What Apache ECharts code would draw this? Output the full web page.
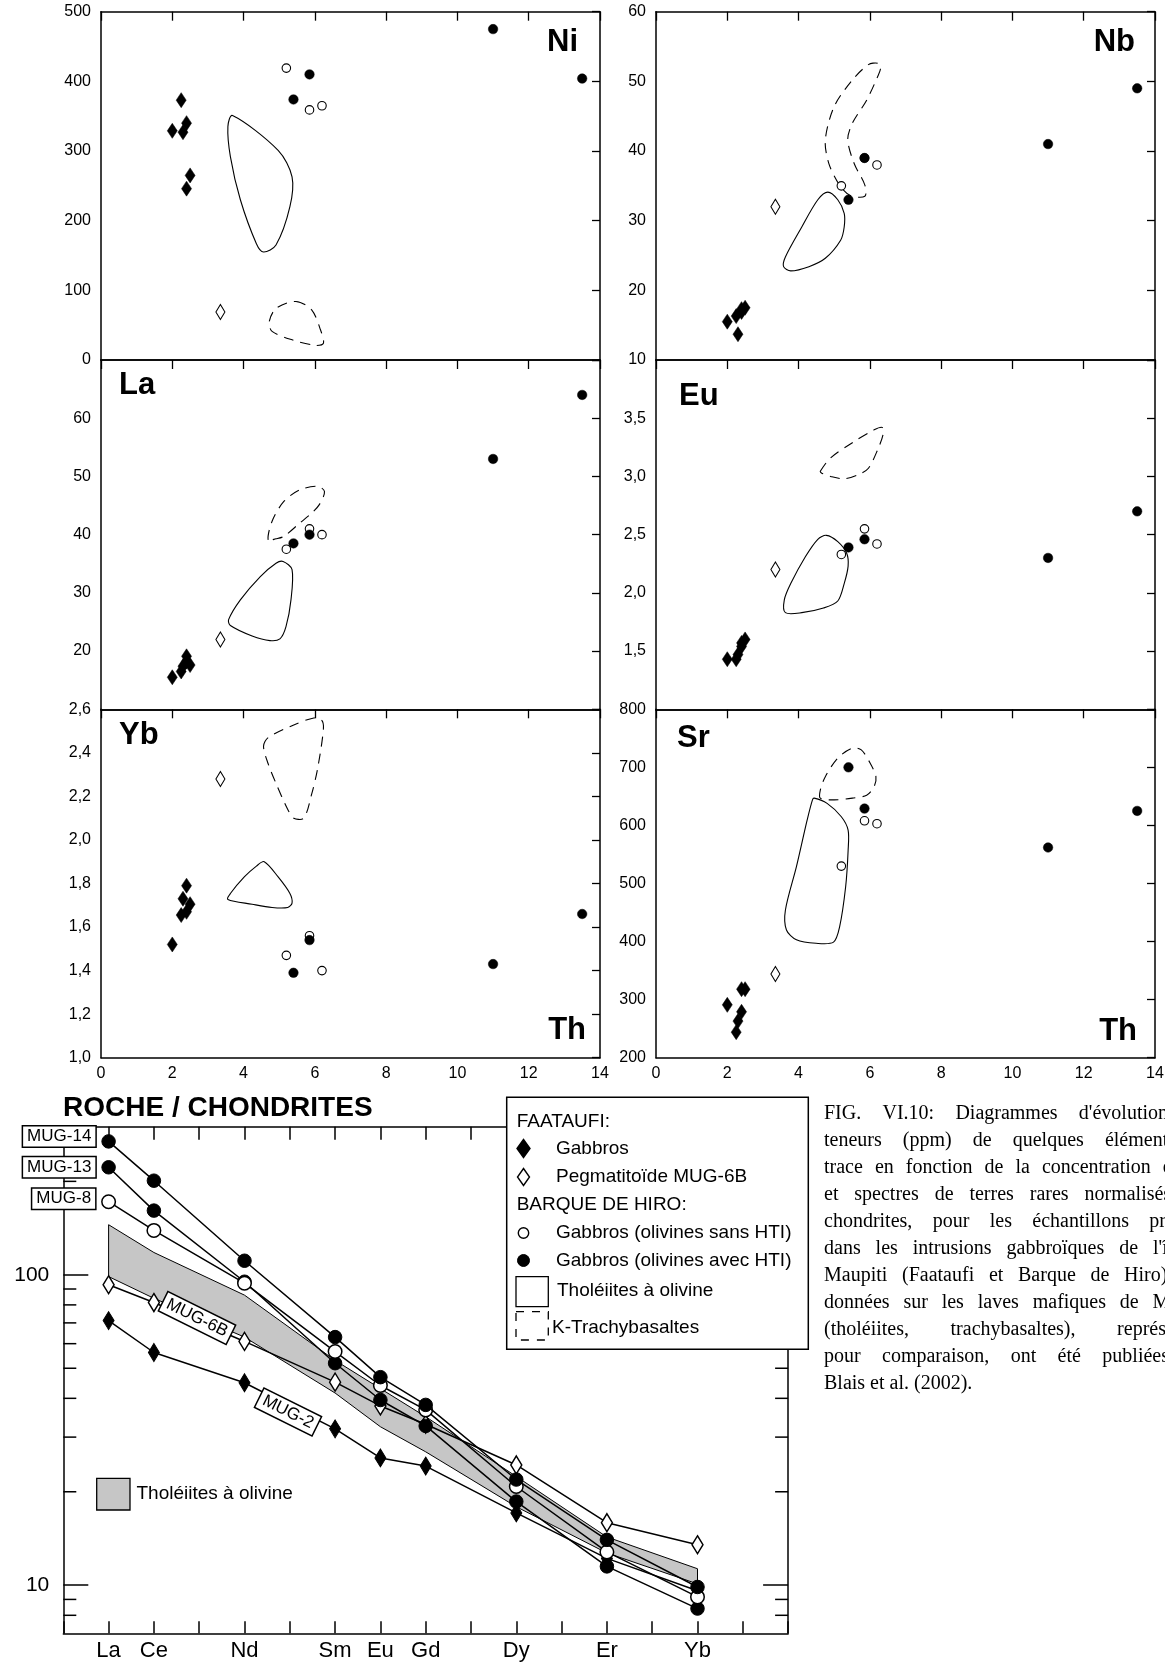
<!DOCTYPE html>
<html><head><meta charset="utf-8">
<script src="https://cdn.jsdelivr.net/npm/echarts@6/dist/echarts.min.js"></script>
<style>html,body{margin:0;padding:0;background:#fff}#c{width:1165px;height:1663px}</style>
</head><body><div id="c"></div><script>
// ---------------- DATA ----------------
// Th (ppm) of each sample group
const thGab  = [2.0, 2.25, 2.3, 2.4, 2.4, 2.5];   // Faataufi gabbros
const thPeg  = [3.35];                            // Pegmatitoïde MUG-6B
const thSans = [5.2, 5.85, 6.2];                  // Barque de Hiro, olivines sans HTI
const thHTI  = [5.4, 5.85, 11.0, 13.5];           // Barque de Hiro, olivines avec HTI

const niGab = [329, 373, 327, 340, 246, 265]; const niPeg = [69]; const niSans = [419, 359, 365]; const niHTI = [374, 410, 475, 404];
const nbGab = [15.5, 16.3, 13.7, 16.9, 17.3, 17.5]; const nbPeg = [32]; const nbSans = [35, 39, 38]; const nbHTI = [33, 39, 41, 49];
const laGab = [15.5, 16.5, 17.4, 19.1, 18.2, 17.6]; const laPeg = [22]; const laSans = [37.5, 41, 40]; const laHTI = [38.5, 40, 53, 64];
const euGab = [1.43, 1.43, 1.47, 1.54, 1.57, 1.60]; const euPeg = [2.2]; const euSans = [2.33, 2.55, 2.42]; const euHTI = [2.39, 2.46, 2.30, 2.70];
const ybGab = [1.52, 1.655, 1.73, 1.79, 1.67, 1.705]; const ybPeg = [2.28]; const ybSans = [1.47, 1.56, 1.40]; const ybHTI = [1.39, 1.54, 1.43, 1.66];
const srGab = [291, 244, 263, 279, 318, 318]; const srPeg = [344]; const srSans = [530, 608, 603]; const srHTI = [700, 629, 562, 625];

// Fields of lavas [Th, element]
const niThol = [[3.69,351],[4.97,301],[5.36,263],[5.3,220],[4.91,165],[4.56,155],[4.36,167],[3.91,230],[3.63,292],[3.56,335]];
const niKT   = [[5.47,84],[5.91,72],[6.16,43],[6.24,24],[6.02,21],[5.36,29],[4.8,41],[4.72,55],[4.91,74]];
const nbThol = [[4.82,34.1],[5.1,33.0],[5.28,31.05],[5.28,29.1],[5.18,27.2],[4.75,24.6],[4.29,23.4],[3.78,22.8],[3.58,23.4],[3.63,24.8],[4.09,29.1],[4.54,33.0]];
const nbKT   = [[6.22,52.6],[5.96,52.4],[5.51,50.2],[5.0,46.4],[4.75,41.6],[4.85,38.2],[5.15,35.1],[5.45,33.6],[5.86,33.5],[5.86,35.1],[5.56,38.2],[5.38,41.6],[5.51,44.0],[5.91,47.3],[6.22,50.7],[6.3,51.9]];
const laThol = [[5.11,35.4],[5.36,34.0],[5.33,28.8],[5.19,24.2],[5.02,22.1],[4.74,21.8],[4.24,22.6],[3.63,24.4],[3.58,25.4],[3.91,28.8],[4.47,32.8],[4.91,35.1]];
const laKT   = [[4.69,39.1],[4.8,42.3],[5.13,45.7],[5.58,47.7],[6.08,48.3],[6.27,47.4],[6.13,45.2],[5.91,43.7],[5.58,42.0],[5.13,39.7],[4.91,39.3]];
const euThol = [[4.78,2.494],[5.1,2.44],[5.35,2.34],[5.39,2.23],[5.28,2.08],[5.1,1.93],[4.7,1.87],[4.09,1.83],[3.63,1.83],[3.6,1.94],[3.78,2.08],[4.19,2.31],[4.54,2.46]];
const euKT   = [[4.61,3.044],[4.9,3.16],[5.51,3.29],[6.12,3.40],[6.35,3.42],[6.37,3.36],[6.22,3.23],[5.96,3.07],[5.71,3.02],[5.3,2.98],[4.9,3.0],[4.64,3.03]];
const ybThol = [[4.58,1.90],[4.97,1.83],[5.3,1.754],[5.36,1.71],[5.24,1.69],[4.8,1.69],[4.24,1.705],[3.56,1.727],[3.63,1.754],[4.02,1.83],[4.36,1.88]];
const ybKT   = [[4.56,2.43],[4.69,2.47],[5.36,2.525],[5.97,2.56],[6.19,2.55],[6.24,2.51],[6.08,2.33],[5.91,2.21],[5.69,2.10],[5.41,2.10],[5.24,2.14],[4.91,2.26],[4.69,2.35]];
const srThol = [[4.44,647],[4.8,638],[5.2,615],[5.39,592],[5.39,557],[5.32,494],[5.15,425],[4.98,399],[4.49,397],[3.94,403],[3.66,420],[3.63,454],[3.94,529],[4.24,609],[4.39,644]];
const srKT   = [[4.61,647],[4.61,661],[4.75,684],[5.1,716],[5.51,733],[5.76,730],[6.01,707],[6.17,684],[6.12,667],[5.91,652],[5.51,647],[5.0,644]];

// REE / chondrites
const reeElements = ['La','Ce','Nd','Sm','Eu','Gd','Dy','Er','Yb'];
const reePos      = [0, 1, 3, 5, 6, 7, 9, 11, 13];   // position in La..Lu sequence
const mug14 = [269, 201, 111, 63, 46.8, 38.1, 21.9, 14.0, 9.87];
const mug13 = [222, 161, 95, 51.9, 39.5, 32.6, 18.6, 11.5, 8.41];
const mug8  = [172, 139, 94, 56.6, 44, 36.7, 20.8, 12.8, 9.17];
const mug6b = [92.9, 81.4, 61, 45.1, 37.8, 33, 24.4, 15.9, 13.5];
const mug2  = [71.2, 56.2, 44.9, 31.9, 25.7, 24.2, 17.1, 12.2, 9.6];
const tholUpper = [145, 118, 86, 53, 43, 34.9, 22.4, 14.3, 11.3];
const tholLower = [98.7, 84, 63, 41.6, 32.4, 26.9, 17.9, 12.7, 10.1];
const reeMajorTicks = [10, 100];
const reeMinorTicks = [8, 9, 20, 30, 40, 50, 60, 70, 80, 90, 200];

// ---------------- LAYOUT ----------------
const FF = '"Liberation Sans", Arial, sans-serif';
const colX = [101, 656], colW = 499;
const rowY = [11.7, 360, 709.3], rowH = [348.3, 349.3, 348.4];
const fmtComma = v => v.toFixed(1).replace('.', ',');
const panels = [
  {t:'Ni', c:0, r:0, min:0,   max:500, step:100, fmt:v=>String(v), ends:true,  gab:niGab, peg:niPeg, sans:niSans, hti:niHTI, thol:niThol, kt:niKT},
  {t:'Nb', c:1, r:0, min:10,  max:60,  step:10,  fmt:v=>String(v), ends:true,  gab:nbGab, peg:nbPeg, sans:nbSans, hti:nbHTI, thol:nbThol, kt:nbKT},
  {t:'La', c:0, r:1, min:10,  max:70,  step:10,  fmt:v=>String(v), ends:false, gab:laGab, peg:laPeg, sans:laSans, hti:laHTI, thol:laThol, kt:laKT},
  {t:'Eu', c:1, r:1, min:1.0, max:4.0, step:0.5, fmt:fmtComma,     ends:false, gab:euGab, peg:euPeg, sans:euSans, hti:euHTI, thol:euThol, kt:euKT},
  {t:'Yb', c:0, r:2, min:1.0, max:2.6, step:0.2, fmt:fmtComma,     ends:true,  gab:ybGab, peg:ybPeg, sans:ybSans, hti:ybHTI, thol:ybThol, kt:ybKT},
  {t:'Sr', c:1, r:2, min:200, max:800, step:100, fmt:v=>String(v), ends:true,  gab:srGab, peg:srPeg, sans:srSans, hti:srHTI, thol:srThol, kt:srKT}
];

const axLine = {show:true, onZero:false, lineStyle:{color:'#000', width:1.5}};
const grids = [], xAxes = [], yAxes = [], series = [];

function polygonSeries(xi, yi, pts, dashed, style) {
  return {
    type:'custom', xAxisIndex:xi, yAxisIndex:yi, silent:true, z:1,
    data: pts, encode:{x:0, y:1},
    renderItem: (params, api) => {
      if (params.dataIndex !== 0) return null;
      const p = pts.map(d => api.coord(d));
      return {type:'polygon', shape:{points:p, smooth: style ? 0 : 0.3},
        style: Object.assign({fill:'none', stroke:'#000', lineWidth:1.1, lineDash: dashed ? [10,7] : null}, style || {})};
    }
  };
}
function scat(xi, yi, xs, ys, symbol, size, filled, z) {
  return {type:'scatter', xAxisIndex:xi, yAxisIndex:yi, symbol, symbolSize:size, z,
    data: xs.map((x, i) => [x, ys[i]]),
    itemStyle: filled ? {color:'#000', borderColor:'#000', borderWidth:0.5, opacity:1} : {color:'#fff', borderColor:'#000', borderWidth:1.1, opacity:1},
    silent:true};
}

panels.forEach((p, i) => {
  grids.push({left:colX[p.c], top:rowY[p.r], width:colW, height:rowH[p.r], containLabel:false, outerBoundsMode:'none'});
  xAxes.push({gridIndex:i, type:'value', min:0, max:14, interval:2, position:'bottom', axisLine:axLine,
    axisTick:{show:false}, splitLine:{show:false},
    axisLabel:{show:p.r===2, fontSize:16, color:'#000', fontFamily:FF, margin:8}});
  xAxes.push({gridIndex:i, type:'value', min:0, max:14, interval:2, position:'top', axisLine:axLine,
    axisTick:{show:true, inside:true, length:9, lineStyle:{color:'#000', width:1.3}}, splitLine:{show:false}, axisLabel:{show:false}});
  yAxes.push({gridIndex:i, type:'value', min:p.min, max:p.max, interval:p.step, position:'left', axisLine:axLine,
    axisTick:{show:false}, splitLine:{show:false},
    axisLabel:{show:true, fontSize:16, color:'#000', fontFamily:FF, margin:10, formatter:p.fmt, showMinLabel:p.ends, showMaxLabel:p.ends}});
  yAxes.push({gridIndex:i, type:'value', min:p.min, max:p.max, interval:p.step, position:'right', axisLine:axLine,
    axisTick:{show:true, inside:true, length:8, lineStyle:{color:'#000', width:1.3}}, splitLine:{show:false}, axisLabel:{show:false}});
  const xi = 2*i, yi = 2*i;
  series.push(polygonSeries(xi, yi, p.thol, false));
  series.push(polygonSeries(xi, yi, p.kt, true));
  series.push(scat(xi, yi, thGab, p.gab, 'diamond', [10,15], true, 3));
  series.push(scat(xi, yi, thPeg, p.peg, 'diamond', [9,15], false, 3));
  series.push(scat(xi, yi, thSans, p.sans, 'circle', 8.5, false, 4));
  series.push(scat(xi, yi, thHTI, p.hti, 'circle', 9.5, true, 5));
});

// REE grid (index 6)
const G = 6;
grids.push({left:63.3, top:1126.7, width:724.8, height:506.6, containLabel:false, outerBoundsMode:'none'});
const reeLabelMap = {};
reePos.forEach((p, i) => reeLabelMap[p] = reeElements[i]);
xAxes.push({gridIndex:G, type:'value', min:-1, max:15, interval:1, position:'bottom', axisLine:axLine,
  axisTick:{show:true, inside:true, length:12, lineStyle:{color:'#000', width:1.5}}, splitLine:{show:false},
  axisLabel:{show:true, fontSize:22, color:'#000', fontFamily:FF, margin:7, formatter: v => reeLabelMap[v] || ''}});
xAxes.push({gridIndex:G, type:'value', min:-1, max:15, interval:1, position:'top', axisLine:axLine,
  axisTick:{show:true, inside:true, length:13, lineStyle:{color:'#000', width:1.5}}, splitLine:{show:false}, axisLabel:{show:false}});
const logBase = {gridIndex:G, type:'log', logBase:10, min:7, max:300, splitLine:{show:false}};
yAxes.push(Object.assign({}, logBase, {position:'left', axisLine:axLine,
  axisTick:{show:true, inside:true, length:25, customValues:reeMajorTicks, lineStyle:{color:'#000', width:1.5}},
  axisLabel:{show:true, customValues:reeMajorTicks, fontSize:21, color:'#000', fontFamily:FF, margin:14, formatter: v => String(Math.round(v))}}));
yAxes.push(Object.assign({}, logBase, {position:'right', axisLine:axLine,
  axisTick:{show:true, inside:true, length:25, customValues:reeMajorTicks, lineStyle:{color:'#000', width:1.5}}, axisLabel:{show:false}}));

const XI = 12, YI = 12;
// minor log ticks (inside, both sides) drawn through the axis scales
series.push({type:'custom', xAxisIndex:XI, yAxisIndex:YI, silent:true, clip:false, z:6,
  data: reeMinorTicks.map(v => [-1, v]), encode:{x:0, y:1},
  renderItem: (params, api) => {
    const v = api.value(1);
    const pL = api.coord([-1, v]), pR = api.coord([15, v]);
    return {type:'group', children:[
      {type:'line', shape:{x1:pL[0], y1:pL[1], x2:pL[0] + 13, y2:pL[1]}, style:{stroke:'#000', lineWidth:1.5}},
      {type:'line', shape:{x1:pR[0] - 13, y1:pR[1], x2:pR[0], y2:pR[1]}, style:{stroke:'#000', lineWidth:1.5}}
    ]};
  }});

const bandPts = reePos.map((p, i) => [p, tholUpper[i]]).concat(reePos.map((p, i) => [p, tholLower[i]]).reverse());
series.push(polygonSeries(XI, YI, bandPts, false, {fill:'#c6c6c6', stroke:'#000', lineWidth:1}));

function reeLine(vals, symbol, size, filled, name, z) {
  const data = reePos.map((p, i) => [p, vals[i]]);
  if (name) {
    data[0] = {value:data[0], label:{show:true, formatter:name, position:'left', distance:6, offset:[0, name==='MUG-14' ? -5 : (name==='MUG-8' ? -3 : 0)],
      fontSize:17, fontFamily:FF, color:'#000', backgroundColor:'#fff', borderColor:'#000', borderWidth:1.5, padding:[2,4,1,4]}};
  }
  return {type:'line', xAxisIndex:XI, yAxisIndex:YI, data, symbol, symbolSize:size, z, silent:true, showAllSymbol:true,
    lineStyle:{color:'#000', width:1.5},
    itemStyle: filled ? {color:'#000', borderColor:'#000', borderWidth:1} : {color:'#fff', borderColor:'#000', borderWidth:1.5}};
}
series.push(reeLine(mug2, 'diamond', [11,18], true, null, 3));
series.push(reeLine(mug6b, 'diamond', [11,18], false, null, 3));
series.push(reeLine(mug13, 'circle', 13.5, true, 'MUG-13', 4));
series.push(reeLine(mug8, 'circle', 13.5, false, 'MUG-8', 4));
series.push(reeLine(mug14, 'circle', 13.5, true, 'MUG-14', 5));

// ---------------- GRAPHICS (titles, legend, caption) ----------------
function txt(x, y, text, size, o) {
  o = o || {};
  const align = o.align || 'left';
  return {type:'text', x, y, z:o.z || 60, rotation:o.rot || 0,
    style: Object.assign({text, fill:'#000', font:(o.bold ? 'bold ' : '') + size + 'px ' + (o.family || FF),
      align, textAlign:align, verticalAlign:'middle', textVerticalAlign:'middle'}, o.style || {})};
}
function diamondG(cx, cy, w, h, filled) {
  return {type:'polygon', z:61, shape:{points:[[cx,cy-h/2],[cx+w/2,cy],[cx,cy+h/2],[cx-w/2,cy]]},
    style:{fill: filled ? '#000' : '#fff', stroke:'#000', lineWidth:1.4}};
}
const boxed = {backgroundColor:'#fff', borderColor:'#000', borderWidth:1.5, padding:[2,4,1,4]};
const graphics = [
  txt(578, 42, 'Ni', 31, {bold:true, align:'right'}),
  txt(1135, 42, 'Nb', 31, {bold:true, align:'right'}),
  txt(119, 385, 'La', 31, {bold:true}),
  txt(679, 396, 'Eu', 31, {bold:true}),
  txt(119, 735, 'Yb', 31, {bold:true}),
  txt(677, 738, 'Sr', 31, {bold:true}),
  txt(586, 1030, 'Th', 31, {bold:true, align:'right'}),
  txt(1137, 1031, 'Th', 31, {bold:true, align:'right'}),
  txt(63, 1108, 'ROCHE / CHONDRITES', 28, {bold:true}),
  // rotated sample labels
  txt(197, 1318, 'MUG-6B', 17, {align:'center', rot:-0.46, style:boxed}),
  txt(288, 1412, 'MUG-2', 17, {align:'center', rot:-0.46, style:boxed}),
  // in-plot legend for the band
  {type:'rect', z:60, shape:{x:96.7, y:1478.3, width:33.3, height:31.7}, style:{fill:'#c6c6c6', stroke:'#000', lineWidth:1.3}},
  txt(136.5, 1494, 'Tholéiites à olivine', 19),
  // main legend box
  {type:'rect', z:55, shape:{x:506.7, y:1097.3, width:301.6, height:252}, style:{fill:'#fff', stroke:'#000', lineWidth:1.5}},
  txt(516.7, 1122, 'FAATAUFI:', 19),
  diamondG(523.5, 1148.5, 13, 18, true),
  txt(556, 1148.5, 'Gabbros', 19),
  diamondG(523.5, 1177, 12, 17, false),
  txt(556, 1177, 'Pegmatitoïde MUG-6B', 19),
  txt(516.7, 1205, 'BARQUE DE HIRO:', 19),
  {type:'circle', z:61, shape:{cx:523.5, cy:1233, r:5.2}, style:{fill:'#fff', stroke:'#000', lineWidth:1.4}},
  txt(556, 1233, 'Gabbros (olivines sans HTI)', 19),
  {type:'circle', z:61, shape:{cx:523.5, cy:1260.5, r:6}, style:{fill:'#000', stroke:'#000', lineWidth:1}},
  txt(556, 1260.5, 'Gabbros (olivines avec HTI)', 19),
  {type:'rect', z:61, shape:{x:516, y:1276.7, width:32.3, height:30}, style:{fill:'#fff', stroke:'#000', lineWidth:1.3}},
  txt(557, 1291, 'Tholéiites à olivine', 19),
  {type:'rect', z:61, shape:{x:516, y:1311.7, width:32.3, height:28.3}, style:{fill:'#fff', stroke:'#000', lineWidth:1.3, lineDash:[8,8]}},
  txt(552, 1328, 'K-Trachybasaltes', 19)
];

// caption (justified, cut by the page edge as in the original)
const capLines = [
  "FIG. VI.10: Diagrammes d'évolution des",
  "teneurs (ppm) de quelques éléments en",
  "trace en fonction de la concentration en Th",
  "et spectres de terres rares normalisés aux",
  "chondrites, pour les échantillons prélevés",
  "dans les intrusions gabbroïques de l'île de",
  "Maupiti (Faataufi et Barque de Hiro). Les",
  "données sur les laves mafiques de Maupiti",
  "(tholéiites, trachybasaltes), représentées",
  "pour comparaison, ont été publiées par",
  "Blais et al. (2002)."
];
(function buildCaption() {
  const capFont = '20px "Liberation Serif"';
  const ctx = document.createElement('canvas').getContext('2d');
  ctx.font = capFont;
  const mw = s => ctx.measureText(s).width;
  const x0 = 824;
  const w1 = capLines[0].split(' ');
  const sum4 = w1.slice(0, 4).reduce((a, w) => a + mw(w), 0);
  const g1 = (1168 - x0 - sum4) / 3;
  const lineW = w1.reduce((a, w) => a + mw(w), 0) + g1 * (w1.length - 1);
  capLines.forEach((line, li) => {
    const words = line.split(' ');
    const y = 1114 + li * 27.0;
    const last = li === capLines.length - 1;
    const tot = words.reduce((a, w) => a + mw(w), 0);
    const gap = last ? mw(' ') : (lineW - tot) / (words.length - 1);
    let x = x0;
    words.forEach(w => {
      graphics.push(txt(x, y, w, 20, {family:'"Liberation Serif", "Times New Roman", serif'}));
      x += mw(w) + gap;
    });
  });
})();

const chart = echarts.init(document.getElementById('c'), null, {renderer:'canvas', width:1165, height:1663});
chart.setOption({
  animation:false,
  backgroundColor:'#fff',
  grid:grids, xAxis:xAxes, yAxis:yAxes, series,
  graphic:{elements:graphics}
});
</script></body></html>
